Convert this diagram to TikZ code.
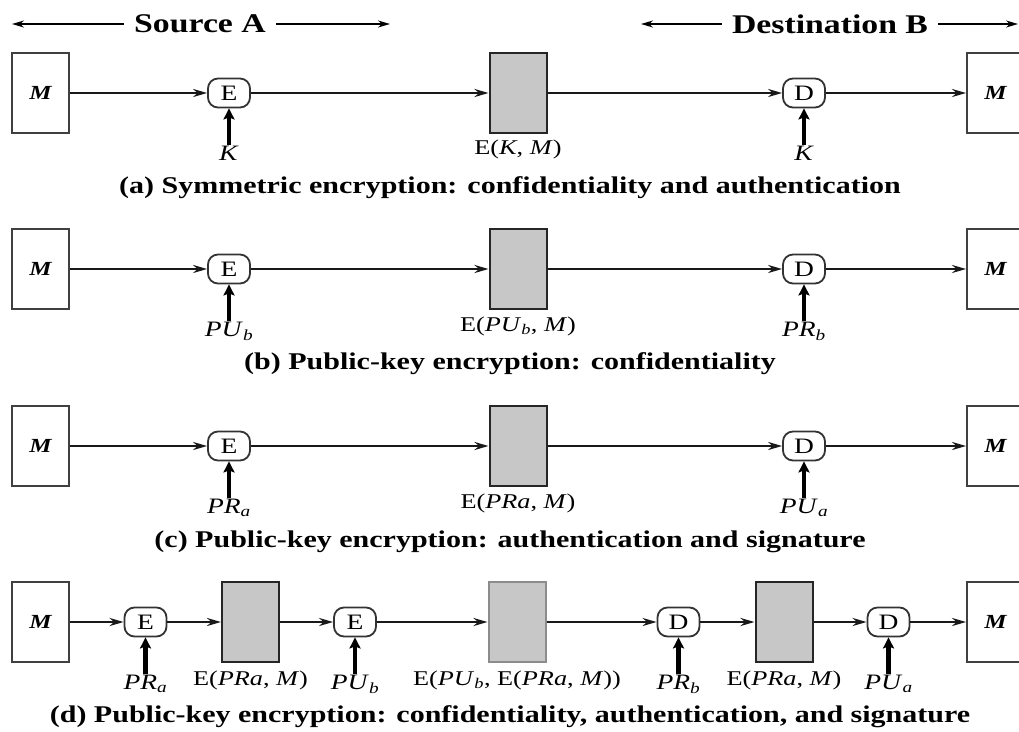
\documentclass[tikz,border=0pt]{standalone}
\usepackage{fontspec}
\setmainfont{Liberation Serif}[FakeStretch=1.25]
\usetikzlibrary{arrows.meta}

\begin{document}
\begin{tikzpicture}[x=1pt,y=-1pt,
  msg/.style={draw=black!75,line width=1.9pt,minimum width=57pt,minimum height=80pt,inner sep=0pt,
    font=\fontsize{20}{22}\selectfont\bfseries\itshape},
  cipher/.style={draw=black!85,fill=black!22,line width=2pt,minimum width=57pt,minimum height=80pt,inner sep=0pt},
  op/.style={draw=black!80,fill=white,line width=1.8pt,rounded corners=10pt,minimum width=42pt,minimum height=29pt,
    inner sep=0pt,font=\fontsize{22}{22}\selectfont},
  keytext/.style={anchor=north,inner sep=1pt,font=\fontsize{22}{22}\selectfont},
  lbl/.style={inner sep=1pt,font=\fontsize{21}{22}\selectfont},
  caption/.style={inner sep=1pt,font=\fontsize{24}{26}\selectfont\bfseries},
  head/.style={inner xsep=10pt,inner ysep=1pt,font=\fontsize{27}{29}\selectfont\bfseries},
  flow/.style={line width=2.7pt,black!90,-{Stealth[length=14pt,width=8pt]}},
  keyarrow/.style={line width=4.2pt,-{Stealth[length=11pt,width=11pt,inset=2pt]}},
  headarrow/.style={line width=1.7pt,-{Stealth[length=12pt,width=7pt]}}]

\useasboundingbox (0,0) rectangle (1019,731);

% headings
\node[head] (src) at (200,24) {Source A};
\node[head] (dst) at (830,24) {Destination B};
\coordinate (srcl) at (12,24);
\coordinate (srcr) at (390,24);
\coordinate (dstl) at (641,24);
\coordinate (dstr) at (1018,24);
\draw[headarrow] (src) -- (srcl);
\draw[headarrow] (src) -- (srcr);
\draw[headarrow] (dst) -- (dstl);
\draw[headarrow] (dst) -- (dstr);

% (a)
\node[msg] (Ma) at (40.5,93) {M};
\node[op] (Ea) at (229,93) {E};
\node[cipher] (Ca) at (518,93) {};
\node[op] (Da) at (804,93) {D};
\node[msg] (Ra) at (995.5,93) {M};
\node[keytext] (ka) at (229,145) {\textit{K}};
\node[keytext] (kda) at (804,145) {\textit{K}};
\node[lbl] (la) at (518,149) {E(\textit{K}, \textit{M})};
\node[caption] (capa) at (510,188) {(a) Symmetric encryption: confidentiality and authentication};
\draw[flow] (Ma) -- (Ea);
\draw[flow] (Ea) -- (Ca);
\draw[flow] (Ca) -- (Da);
\draw[flow] (Da) -- (Ra);
\draw[keyarrow] (ka) -- (Ea);
\draw[keyarrow] (kda) -- (Da);

% (b)
\node[msg] (Mb) at (40.5,269) {M};
\node[op] (Eb) at (229,269) {E};
\node[cipher] (Cb) at (518,269) {};
\node[op] (Db) at (804,269) {D};
\node[msg] (Rb) at (995.5,269) {M};
\node[keytext] (kb) at (229,321) {\textit{PU}\textsubscript{\textit{b}}};
\node[keytext] (kdb) at (804,321) {\textit{PR}\textsubscript{\textit{b}}};
\node[lbl] (lb) at (518,326) {E(\textit{PU}\textsubscript{\textit{b}}, \textit{M})};
\node[caption] (capb) at (510,364) {(b) Public-key encryption: confidentiality};
\draw[flow] (Mb) -- (Eb);
\draw[flow] (Eb) -- (Cb);
\draw[flow] (Cb) -- (Db);
\draw[flow] (Db) -- (Rb);
\draw[keyarrow] (kb) -- (Eb);
\draw[keyarrow] (kdb) -- (Db);

% (c)
\node[msg] (Mc) at (40.5,446) {M};
\node[op] (Ec) at (229,446) {E};
\node[cipher] (Cc) at (518,446) {};
\node[op] (Dc) at (804,446) {D};
\node[msg] (Rc) at (995.5,446) {M};
\node[keytext] (kc) at (229,498) {\textit{PR}\textsubscript{\textit{a}}};
\node[keytext] (kdc) at (804,498) {\textit{PU}\textsubscript{\textit{a}}};
\node[lbl] (lc) at (518,503) {E(\textit{PRa}, \textit{M})};
\node[caption] (capc) at (510,542) {(c) Public-key encryption: authentication and signature};
\draw[flow] (Mc) -- (Ec);
\draw[flow] (Ec) -- (Cc);
\draw[flow] (Cc) -- (Dc);
\draw[flow] (Dc) -- (Rc);
\draw[keyarrow] (kc) -- (Ec);
\draw[keyarrow] (kdc) -- (Dc);

% (d)
\node[msg] (Md) at (40.5,622) {M};
\node[op] (Ed1) at (145.5,622) {E};
\node[cipher] (Cd1) at (250.5,622) {};
\node[op] (Ed2) at (355,622) {E};
\node[cipher,draw=black!45] (Cd2) at (517,622) {};
\node[op] (Dd1) at (678.5,622) {D};
\node[cipher] (Cd3) at (784,622) {};
\node[op] (Dd2) at (888.5,622) {D};
\node[msg] (Rd) at (995.5,622) {M};
\node[keytext] (kd1) at (145.5,674) {\textit{PR}\textsubscript{\textit{a}}};
\node[keytext] (kd2) at (355,674) {\textit{PU}\textsubscript{\textit{b}}};
\node[keytext] (kd3) at (678.5,674) {\textit{PR}\textsubscript{\textit{b}}};
\node[keytext] (kd4) at (888.5,674) {\textit{PU}\textsubscript{\textit{a}}};
\node[lbl] (ld1) at (250.5,680) {E(\textit{PRa}, \textit{M})};
\node[lbl] (ld2) at (517,680) {E(\textit{PU}\textsubscript{\textit{b}}, E(\textit{PRa}, \textit{M}))};
\node[lbl] (ld3) at (784,680) {E(\textit{PRa}, \textit{M})};
\node[caption] (capd) at (510,717) {(d) Public-key encryption: confidentiality, authentication, and signature};
\draw[flow] (Md) -- (Ed1);
\draw[flow] (Ed1) -- (Cd1);
\draw[flow] (Cd1) -- (Ed2);
\draw[flow] (Ed2) -- (Cd2);
\draw[flow] (Cd2) -- (Dd1);
\draw[flow] (Dd1) -- (Cd3);
\draw[flow] (Cd3) -- (Dd2);
\draw[flow] (Dd2) -- (Rd);
\draw[keyarrow] (kd1) -- (Ed1);
\draw[keyarrow] (kd2) -- (Ed2);
\draw[keyarrow] (kd3) -- (Dd1);
\draw[keyarrow] (kd4) -- (Dd2);
\end{tikzpicture}
\end{document}
